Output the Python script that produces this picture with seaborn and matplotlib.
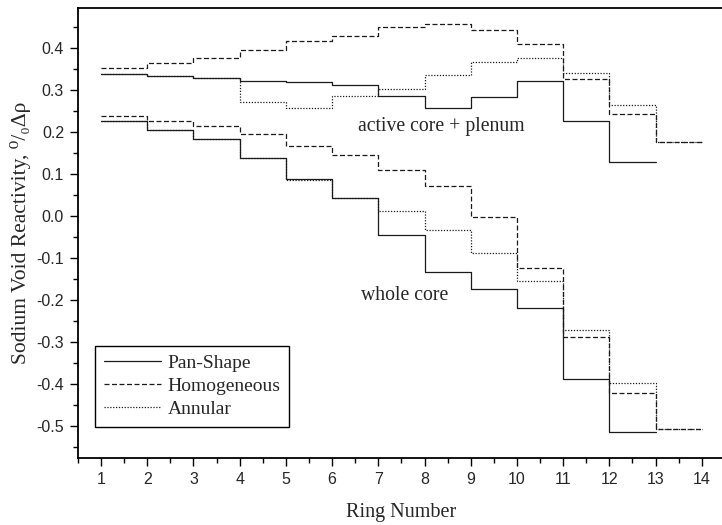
import numpy as np
import pandas as pd
import matplotlib
matplotlib.use("Agg")
import matplotlib.pyplot as plt
import seaborn as sns

series = ["Pan-Shape", "Homogeneous", "Annular"]

# active core + plenum (values per ring)
pan_upper = [0.337, 0.334, 0.329, 0.322, 0.319, 0.311, 0.286, 0.256, 0.283, 0.321, 0.225, 0.129]
hom_upper = [0.353, 0.365, 0.375, 0.394, 0.416, 0.428, 0.450, 0.456, 0.443, 0.410, 0.325, 0.243, 0.177]
ann_upper = [0.337, 0.334, 0.329, 0.272, 0.258, 0.285, 0.303, 0.335, 0.367, 0.375, 0.339, 0.264, 0.177]

# whole core
pan_lower = [0.225, 0.204, 0.183, 0.138, 0.088, 0.044, -0.045, -0.134, -0.174, -0.218, -0.387, -0.513]
hom_lower = [0.239, 0.227, 0.215, 0.195, 0.167, 0.145, 0.110, 0.071, -0.003, -0.123, -0.288, -0.420, -0.507]
ann_lower = [0.225, 0.204, 0.183, 0.138, 0.085, 0.044, 0.013, -0.033, -0.089, -0.154, -0.271, -0.397, -0.507]

x_ticks = list(range(1, 15))
y_ticks = [-0.5, -0.4, -0.3, -0.2, -0.1, 0.0, 0.1, 0.2, 0.3, 0.4]


def step_frame(vals):
    ring = list(range(1, len(vals) + 2))
    return pd.DataFrame({"ring": ring, "value": list(vals) + [vals[-1]]})


sns.set_theme(style="ticks")
plt.rcParams["font.family"] = ["Liberation Serif", "DejaVu Serif"]

fig = plt.figure(figsize=(7.22, 5.25), dpi=100)
ax = fig.add_axes([0.108, 0.128, 0.896, 0.857])

styles = {
    "Pan-Shape": dict(linestyle="-"),
    "Homogeneous": dict(linestyle=(0, (4, 2))),
    "Annular": dict(linestyle=(0, (1, 1.3))),
}
data = {
    "Pan-Shape": (pan_upper, pan_lower),
    "Homogeneous": (hom_upper, hom_lower),
    "Annular": (ann_upper, ann_lower),
}

for name in ["Annular", "Homogeneous", "Pan-Shape"]:
    up, lo = data[name]
    sns.lineplot(data=step_frame(up), x="ring", y="value", ax=ax, drawstyle="steps-post",
                 color="#1a1a1a", linewidth=0.9, estimator=None, sort=False,
                 label=name, **styles[name])
    sns.lineplot(data=step_frame(lo), x="ring", y="value", ax=ax, drawstyle="steps-post",
                 color="#1a1a1a", linewidth=0.9, estimator=None, sort=False,
                 **styles[name])

ax.set_xlim(0.5, 14.5)
ax.set_ylim(-0.575, 0.495)
ax.set_xticks(x_ticks)
ax.set_xticks(np.arange(0.5, 14.6, 1.0), minor=True)
ax.set_yticks(y_ticks)
ax.set_yticks(np.arange(-0.55, 0.5, 0.1), minor=True)
ax.set_xticklabels([str(t) for t in x_ticks], family=["Liberation Sans", "DejaVu Sans"], fontsize=11.5)
ax.set_yticklabels([f"{t:.1f}" for t in y_ticks], family=["Liberation Sans", "DejaVu Sans"], fontsize=11.5)
ax.tick_params(which="major", direction="out", length=6, width=1.0, color="black", pad=4)
ax.tick_params(which="minor", direction="out", length=3.5, width=1.0, color="black")

for s in ax.spines.values():
    s.set_linewidth(1.3)
    s.set_color("black")
    s.set_visible(True)

ax.set_xlabel("Ring Number", fontsize=14.5, labelpad=12)
ax.set_ylabel("Sodium Void Reactivity, \u2070/\u2080\u0394\u03c1", fontsize=15.5, labelpad=4)

ax.text(8.36, 0.214, "active core + plenum", ha="center", va="center", fontsize=14.2)
ax.text(7.57, -0.19, "whole core", ha="center", va="center", fontsize=14.2)

handles, labels = ax.get_legend_handles_labels()
order = [labels.index(n) for n in series]
leg = ax.legend([handles[i] for i in order], [labels[i] for i in order],
                loc="lower left", bbox_to_anchor=(0.027, 0.069), fancybox=False,
                frameon=True, edgecolor="black", fontsize=14, handlelength=2.9,
                handletextpad=0.35, labelspacing=0.28, borderpad=0.45, borderaxespad=0)
leg.get_frame().set_linewidth(1.0)
leg.get_frame().set_alpha(1)

fig.savefig("out.png", dpi=100)
